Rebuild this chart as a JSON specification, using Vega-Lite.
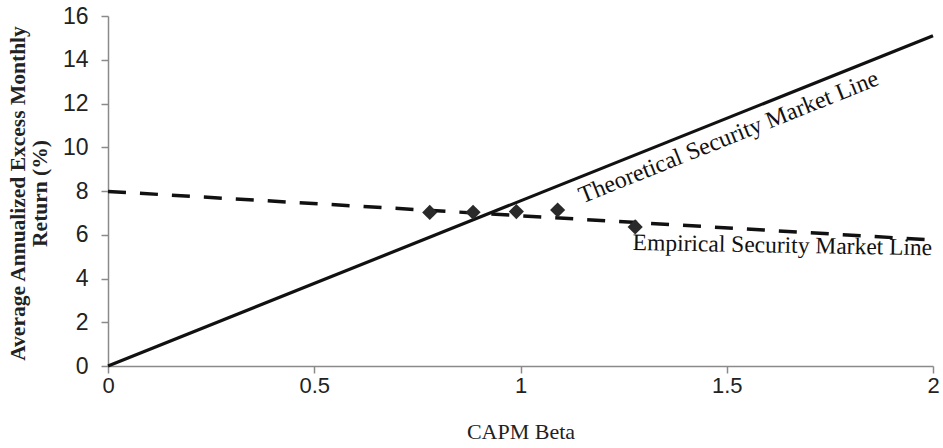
{
  "$schema": "https://vega.github.io/schema/vega-lite/v6.json",
  "width": 825,
  "height": 350,
  "autosize": {"type": "none"},
  "padding": {"left": 108, "top": 16, "right": 10, "bottom": 82},
  "background": "white",
  "config": {
    "view": {"stroke": null},
    "axis": {
      "grid": false,
      "domainColor": "#8a8a8a",
      "domainWidth": 1.5,
      "tickColor": "#8a8a8a",
      "tickWidth": 1.5,
      "tickSize": 7,
      "labelFont": "Liberation Sans",
      "labelFontSize": 22,
      "labelColor": "#222222",
      "titleFont": "Liberation Serif",
      "titleColor": "#222222"
    }
  },
  "datasets": {
    "lines": [
      {"beta": 0, "ret": 0, "series": "Theoretical"},
      {"beta": 2, "ret": 15.1, "series": "Theoretical"},
      {"beta": 0, "ret": 7.98, "series": "Empirical"},
      {"beta": 2, "ret": 5.76, "series": "Empirical"}
    ],
    "points": [
      {"beta": 0.78, "ret": 7.02},
      {"beta": 0.885, "ret": 7.03},
      {"beta": 0.99, "ret": 7.06},
      {"beta": 1.09, "ret": 7.13},
      {"beta": 1.278, "ret": 6.36}
    ],
    "labels": [
      {"beta": 1.505, "ret": 10.45, "label": "Theoretical Security Market Line", "series": "Theoretical"},
      {"beta": 1.635, "ret": 5.5, "label": "Empirical Security Market Line", "series": "Empirical"}
    ]
  },
  "encoding": {
    "x": {
      "field": "beta",
      "type": "quantitative",
      "scale": {"domain": [0, 2], "nice": false},
      "axis": {
        "values": [0, 0.5, 1, 1.5, 2],
        "format": "~g",
        "title": "CAPM Beta",
        "titleFontSize": 22,
        "titleFontWeight": "normal",
        "titlePadding": 25,
        "labelPadding": 2,
        "labelFlush": false
      }
    },
    "y": {
      "field": "ret",
      "type": "quantitative",
      "scale": {"domain": [0, 16], "nice": false},
      "axis": {
        "values": [0, 2, 4, 6, 8, 10, 12, 14, 16],
        "title": ["Average Annualized Excess Monthly", "Return (%)"],
        "titleFontSize": 21.5,
        "titleFontWeight": "bold",
        "titleLineHeight": 22,
        "titleX": -90,
        "titleY": 177,
        "titleAngle": -90,
        "titleAlign": "center",
        "titleBaseline": "middle",
        "labelPadding": 13,
        "labelFontSize": 23
      }
    }
  },
  "layer": [
    {
      "data": {"name": "lines"},
      "transform": [{"filter": "datum.series === 'Theoretical'"}],
      "mark": {"type": "line", "color": "#111111", "strokeWidth": 3.2}
    },
    {
      "data": {"name": "lines"},
      "transform": [{"filter": "datum.series === 'Empirical'"}],
      "mark": {"type": "line", "color": "#111111", "strokeWidth": 3.5, "strokeDash": [18, 14]}
    },
    {
      "data": {"name": "points"},
      "mark": {"type": "point", "shape": "diamond", "filled": true, "color": "#2a2a2a", "size": 230, "opacity": 1}
    },
    {
      "data": {"name": "labels"},
      "transform": [{"filter": "datum.series === 'Theoretical'"}],
      "mark": {"type": "text", "font": "Liberation Serif", "fontSize": 24, "color": "#111111", "angle": -21.8, "align": "center", "baseline": "middle"},
      "encoding": {"text": {"field": "label"}}
    },
    {
      "data": {"name": "labels"},
      "transform": [{"filter": "datum.series === 'Empirical'"}],
      "mark": {"type": "text", "font": "Liberation Serif", "fontSize": 23.5, "color": "#111111", "angle": 1, "align": "center", "baseline": "middle"},
      "encoding": {"text": {"field": "label"}}
    }
  ]
}
